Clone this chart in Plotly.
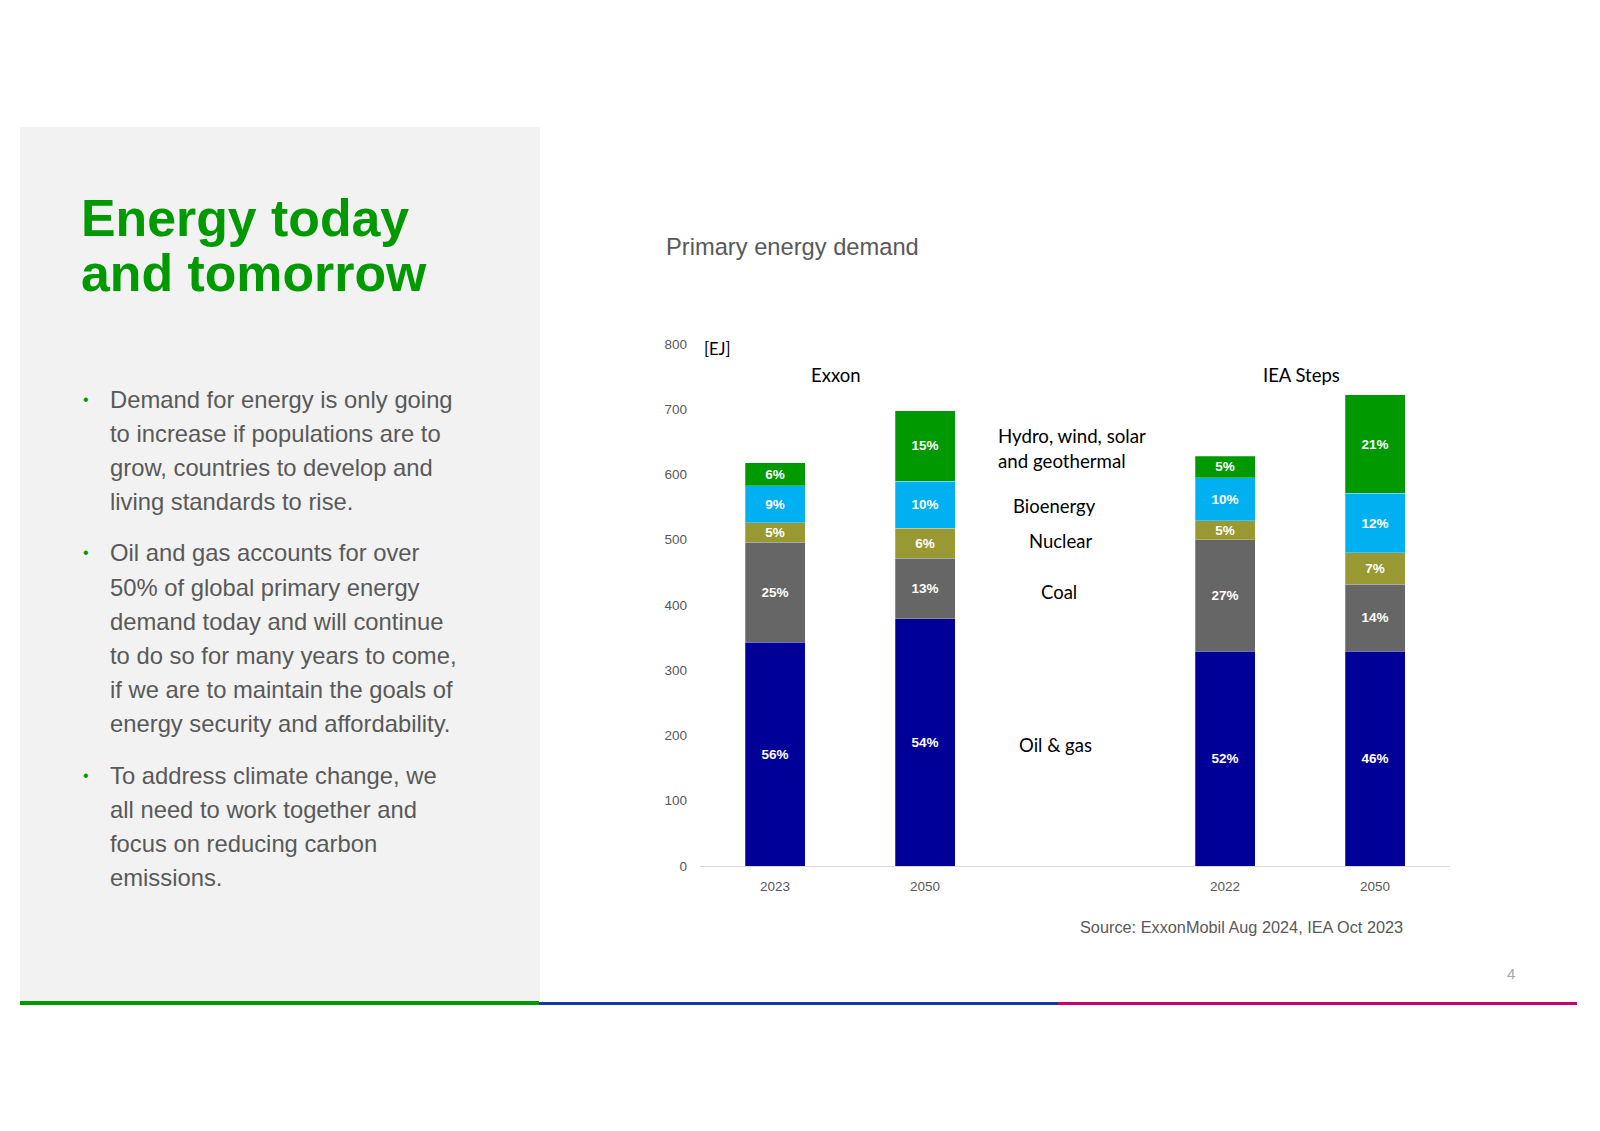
import plotly.graph_objects as go

# ---------------- data ----------------
categories = ["Exxon 2023", "Exxon 2050", "gap", "IEA 2022", "IEA 2050"]
bar_categories = ["Exxon 2023", "Exxon 2050", "IEA 2022", "IEA 2050"]
tick_labels = ["2023", "2050", "2022", "2050"]

oil_gas = [343, 379, 329, 329]
coal = [153, 93, 171, 103]
nuclear = [30, 46, 29, 48]
bioenergy = [57, 72, 66, 91]
hydro_wind_solar = [35, 108, 33, 151]

oil_gas_pct = ["56%", "54%", "52%", "46%"]
coal_pct = ["25%", "13%", "27%", "14%"]
nuclear_pct = ["5%", "6%", "5%", "7%"]
bioenergy_pct = ["9%", "10%", "10%", "12%"]
hydro_pct = ["6%", "15%", "5%", "21%"]

series_names = ["Oil & gas", "Coal", "Nuclear", "Bioenergy", "Hydro, wind, solar and geothermal"]
series_values = [oil_gas, coal, nuclear, bioenergy, hydro_wind_solar]
series_labels = [oil_gas_pct, coal_pct, nuclear_pct, bioenergy_pct, hydro_pct]
series_colors = ["#000099", "#666666", "#999933", "#00B0F0", "#009900"]

y_ticks = [0, 100, 200, 300, 400, 500, 600, 700, 800]

bullets = [
    ["Demand for energy is only going", "to increase if populations are to",
     "grow, countries to develop and", "living standards to rise."],
    ["Oil and gas accounts for over", "50% of global primary energy",
     "demand today and will continue", "to do so for many years to come,",
     "if we are to maintain the goals of", "energy security and affordability."],
    ["To address climate change, we", "all need to work together and",
     "focus on reducing carbon", "emissions."],
]

# ---------------- layout geometry ----------------
W, H = 1600, 1131
L, R, T, B = 700, 150, 344, 265
PW = W - L - R
PH = H - T - B


def px(x):
    return (x - L) / PW


def py(y):
    return (H - B - y) / PH


fig = go.Figure()
for name, vals, labs, col in zip(series_names, series_values, series_labels, series_colors):
    fig.add_trace(go.Bar(
        x=bar_categories, y=vals, name=name, text=labs,
        texttemplate="%{text}", textposition="inside", insidetextanchor="middle",
        textangle=0,
        textfont=dict(family="Liberation Sans, Arial", size=13.5, color="white", weight="bold"),
        marker=dict(color=col, line=dict(color="rgba(255,255,255,0.5)", width=0.5)),
        showlegend=False, hoverinfo="skip",
    ))

SANS = "Liberation Sans, Arial, sans-serif"
LABEL_FONT = "Lato, Noto Sans, sans-serif"
GREY = "#595959"

annotations = []


def ann(text, x, y, size, color, family=SANS, xanchor="left", weight="normal"):
    annotations.append(dict(
        text=text, x=px(x), y=py(y), xref="paper", yref="paper",
        xanchor=xanchor, yanchor="middle", showarrow=False,
        font=dict(family=family, size=size, color=color, weight=weight),
    ))


# title
ann("Energy today", 79, 218, 51.8, "#009900", weight="bold")
ann("and tomorrow", 79, 273, 51.8, "#009900", weight="bold")

# bullets
y0 = 399
for para in bullets:
    ann("•", 81, y0, 16, "#009900")
    for i, line in enumerate(para):
        ann(line, 108, y0 + i * 34.2, 23.8, GREY)
    y0 = y0 + (len(para) - 1) * 34.2 + 51.3

# chart text
ann("Primary energy demand", 664, 247, 23.7, GREY)
ann("[EJ]", 702, 349, 16.5, "#000000", family=LABEL_FONT)
ann("Exxon", 836, 375, 18.5, "#000000", family=LABEL_FONT, xanchor="center")
ann("IEA Steps", 1301, 375, 18.5, "#000000", family=LABEL_FONT, xanchor="center")
ann("Hydro, wind, solar", 996, 436, 18.7, "#000000", family=LABEL_FONT)
ann("and geothermal", 996, 461, 18.7, "#000000", family=LABEL_FONT)
ann("Bioenergy", 1054, 506, 18.5, "#000000", family=LABEL_FONT, xanchor="center")
ann("Nuclear", 1060, 541, 18.5, "#000000", family=LABEL_FONT, xanchor="center")
ann("Coal", 1059, 592, 18.5, "#000000", family=LABEL_FONT, xanchor="center")
ann("Oil & gas", 1055, 745, 18.5, "#000000", family=LABEL_FONT, xanchor="center")
ann("Source: ExxonMobil Aug 2024, IEA Oct 2023", 1241, 927, 16.3, GREY, xanchor="center")
ann("4", 1511, 973, 15, "#A6A6A6", xanchor="center")

shapes = [
    dict(type="rect", xref="paper", yref="paper", x0=px(20), x1=px(540), y0=py(1001), y1=py(127),
         fillcolor="#F2F2F2", line=dict(width=0), layer="below"),
    dict(type="rect", xref="paper", yref="paper", x0=px(20), x1=px(539), y0=py(1005), y1=py(1001),
         fillcolor="#009900", line=dict(width=0)),
    dict(type="rect", xref="paper", yref="paper", x0=px(539), x1=px(1058), y0=py(1005), y1=py(1002),
         fillcolor="#0B3D9E", line=dict(width=0)),
    dict(type="rect", xref="paper", yref="paper", x0=px(1058), x1=px(1577), y0=py(1005), y1=py(1002),
         fillcolor="#CC0066", line=dict(width=0)),
]

fig.update_layout(
    width=W, height=H,
    margin=dict(l=L, r=R, t=T, b=B, autoexpand=False),
    paper_bgcolor="white", plot_bgcolor="white",
    barmode="stack", bargap=0.6,
    uniformtext=dict(minsize=13.5, mode="show"),
    annotations=annotations, shapes=shapes,
    xaxis=dict(
        type="category", categoryorder="array", categoryarray=categories,
        range=[-0.5, 4.5], tickvals=bar_categories, ticktext=tick_labels,
        showgrid=False, showline=True, linecolor="#D9D9D9", linewidth=1,
        ticks="", ticklabelstandoff=8,
        tickfont=dict(family=SANS, size=13.5, color=GREY), fixedrange=True,
    ),
    yaxis=dict(
        range=[0, 800], tickvals=y_ticks, showgrid=False, showline=False,
        zeroline=False, ticks="", ticklabelstandoff=12,
        tickfont=dict(family=SANS, size=13.5, color=GREY), fixedrange=True,
    ),
)

fig.write_html("out.html", config={"displayModeBar": False},
               post_script="document.body.style.margin='0';")
